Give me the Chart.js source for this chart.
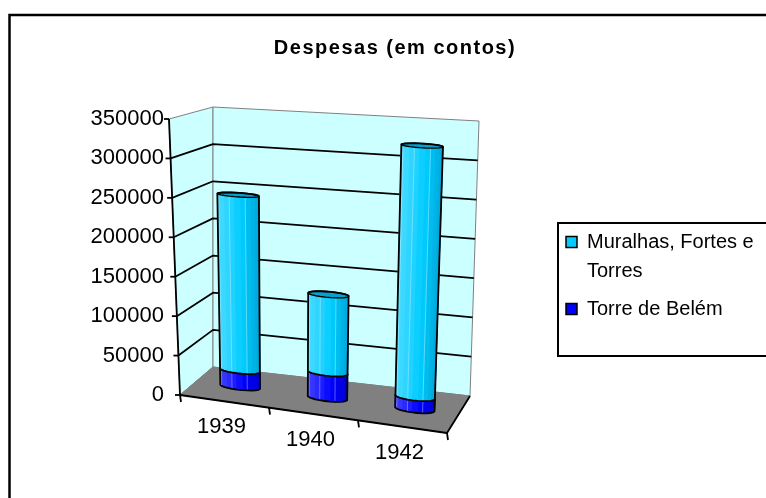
<!DOCTYPE html>
<html>
<head>
<meta charset="utf-8">
<script src="https://cdn.jsdelivr.net/npm/chart.js@4.4.0/dist/chart.umd.min.js"></script>
<style>
  html, body { margin: 0; padding: 0; background: #fff; }
</style>
</head>
<body>
<canvas id="despesasChart" width="766" height="498"></canvas>
<script>
// data (contos)
const years = ["1939", "1940", "1942"];
const muralhas = [227000, 99000, 313000];
const torreBelem = [21000, 32000, 15000];
const yTicks = [0, 50000, 100000, 150000, 200000, 250000, 300000, 350000];

const CYAN = { light: [90, 222, 255], mid: [0, 204, 255], dark: [0, 160, 210], cap: "#0AA0CC" };
const BLUE = { light: [80, 80, 255], mid: [0, 0, 255], dark: [0, 0, 200], cap: "#0000C8" };

const lerp = (a, b, t) => ({ x: a.x + (b.x - a.x) * t, y: a.y + (b.y - a.y) * t });
const mix = (a, b, t) => "rgb(" + a.map((v, i) => Math.round(v + (b[i] - v) * t)).join(",") + ")";

// the 3d box (walls + floor) hangs off the chart area
function makeBox(area) {
  const off = (p, dx, dy) => ({ x: p.x + dx, y: p.y + dy });
  const flt = { x: area.left, y: area.top };
  const flb = { x: area.left + 11, y: area.bottom };
  return {
    flt, flb,
    blt: off(flt, 44, -12), blb: off(flb, 33, -28),
    brt: off(flt, 310, 2), brb: off(flb, 290, 1),
    frt: off(flt, 290, 22), frb: off(flb, 267, 38)
  };
}

// u = across, d = depth (0 front), h = height (0..1)
function project(box, u, d, h) {
  const front = lerp(lerp(box.flb, box.frb, u), lerp(box.flt, box.frt, u), h);
  const back = lerp(lerp(box.blb, box.brb, u), lerp(box.blt, box.brt, u), h);
  return lerp(front, back, d);
}

function poly(ctx, pts, fill, stroke, lw) {
  ctx.beginPath();
  pts.forEach((p, i) => (i ? ctx.lineTo(p.x, p.y) : ctx.moveTo(p.x, p.y)));
  ctx.closePath();
  if (fill) { ctx.fillStyle = fill; ctx.fill(); }
  if (stroke) { ctx.strokeStyle = stroke; ctx.lineWidth = lw; ctx.stroke(); }
}

function line(ctx, pts, color, lw) {
  ctx.beginPath();
  pts.forEach((p, i) => (i ? ctx.lineTo(p.x, p.y) : ctx.moveTo(p.x, p.y)));
  ctx.strokeStyle = color;
  ctx.lineWidth = lw;
  ctx.stroke();
}

function hull(points) {
  const p = points.slice().sort((a, b) => a.x - b.x || a.y - b.y);
  const cross = (o, a, b) => (a.x - o.x) * (b.y - o.y) - (a.y - o.y) * (b.x - o.x);
  const lower = [], upper = [];
  for (const q of p) {
    while (lower.length >= 2 && cross(lower[lower.length - 2], lower[lower.length - 1], q) <= 0) lower.pop();
    lower.push(q);
  }
  for (const q of p.reverse()) {
    while (upper.length >= 2 && cross(upper[upper.length - 2], upper[upper.length - 1], q) <= 0) upper.pop();
    upper.push(q);
  }
  upper.pop();
  lower.pop();
  return lower.concat(upper);
}

function drawCylinder(ctx, box, uc, ru, h0, h1, pal) {
  const N = 24, dc = 0.5, rd = 0.1;
  const bot = [], top = [];
  for (let k = 0; k < N; k++) {
    const a = (Math.PI * 2 * k) / N;
    const u = uc + ru * Math.cos(a), d = dc + rd * Math.sin(a);
    bot.push(project(box, u, d, h0));
    top.push(project(box, u, d, h1));
  }
  const faces = [];
  for (let k = 0; k < N; k++) {
    const a = (Math.PI * 2 * (k + 0.5)) / N;
    faces.push({ k, nx: Math.cos(a), nd: Math.sin(a) });
  }
  faces.sort((p, q) => q.nd - p.nd); // back first
  faces.forEach(f => {
    const k2 = (f.k + 1) % N;
    const i = f.nx * -0.95 + f.nd * -0.31;
    const col = i >= 0 ? mix(pal.mid, pal.light, i * 0.8) : mix(pal.mid, pal.dark, -i);
    poly(ctx, [bot[f.k], bot[k2], top[k2], top[f.k]], col, col, 0.8);
  });
  // faint facet lines like excel
  ctx.globalAlpha = 0.35;
  [14, 17, 20].forEach(k => line(ctx, [bot[k], top[k]], "#fff", 1));
  ctx.globalAlpha = 1;
  poly(ctx, top, pal.cap, null);
  poly(ctx, hull(bot.concat(top)), null, "#000", 1.8);
  poly(ctx, top, null, "#000", 1.4);
}

const scene3d = {
  id: "scene3d",
  beforeDraw(chart) {
    const { ctx, width, height } = chart;
    ctx.save();
    ctx.fillStyle = "#fff";
    ctx.fillRect(0, 0, width, height);
    ctx.strokeStyle = "#000";
    ctx.lineWidth = 2.5;
    ctx.strokeRect(9.5, 15, width + 50, height + 50);
    ctx.restore();
    // excel title is letter-spaced
    const t = chart.titleBlock;
    if (t && !t._spaced) {
      const orig = t.draw;
      t.draw = function () {
        this.ctx.letterSpacing = "1.5px";
        orig.call(this);
        this.ctx.letterSpacing = "0px";
      };
      t._spaced = true;
    }
  },
  afterLayout(chart) {
    // legend box sits level with the middle of the plot, running off the right edge
    const lg = chart.legend;
    lg.top += 223;
    lg.bottom += 223;
    lg.left = chart.width - 209;
    lg.right = chart.width;
  },
  beforeDatasetsDraw(chart) {
    const { ctx, chartArea: ca, scales: { x, y } } = chart;
    const box = makeBox(ca);
    const hOf = v => (ca.bottom - y.getPixelForValue(v)) / ca.height;
    ctx.save();
    ctx.lineJoin = "round";

    // walls
    poly(ctx, [box.flb, box.flt, box.blt, box.blb], "#CCFFFF", "#808080", 1);
    poly(ctx, [box.blb, box.blt, box.brt, box.brb], "#CCFFFF", "#808080", 1);
    y.ticks.forEach(t => {
      if (t.value <= 0 || t.value >= y.max) return;
      const h = hOf(t.value);
      line(ctx, [project(box, 0, 0, h), project(box, 0, 1, h), project(box, 1, 1, h)], "#000", 1.8);
    });

    // floor
    poly(ctx, [box.flb, box.frb, box.brb, box.blb], "#808080", "#808080", 1);
    line(ctx, [box.flb, box.frb, box.brb], "#000", 1.8);

    // value axis and its ticks
    line(ctx, [box.flt, box.flb], "#000", 1.8);
    y.ticks.forEach(t => {
      const p = project(box, 0, 0, hOf(t.value));
      line(ctx, [{ x: p.x - 5, y: p.y }, p], "#000", 1.8);
    });

    // category ticks and labels
    const n = chart.data.labels.length;
    for (let k = 0; k <= n; k++) {
      const p = project(box, k / n, 0, 0);
      line(ctx, [p, { x: p.x + 1, y: p.y + 7 }], "#000", 1.8);
    }
    ctx.font = '22px "Liberation Sans", Arial, sans-serif';
    ctx.fillStyle = "#000";
    ctx.textAlign = "center";
    ctx.textBaseline = "middle";
    const meta = chart.getDatasetMeta(0);
    chart.data.labels.forEach((lab, i) => {
      const uc = (x.getPixelForValue(i) - ca.left) / ca.width;
      const p = project(box, uc, 0, 0);
      ctx.fillText(lab, p.x - 3, p.y + 26);
    });

    // stacked cylinders: Torre de Belém at the bottom
    chart.data.labels.forEach((lab, i) => {
      const el = meta.data[i];
      const uc = (el.x - ca.left) / ca.width;
      const ru = el.width / 2 / ca.width;
      const low = chart.data.datasets[1].data[i];
      const total = low + chart.data.datasets[0].data[i];
      drawCylinder(ctx, box, uc, ru, 0, hOf(low), BLUE);
      drawCylinder(ctx, box, uc, ru, hOf(low), hOf(total), CYAN);
    });
    ctx.restore();
  },
  beforeDatasetDraw() {
    return false; // bars are drawn as cylinders above
  },
  afterDraw(chart) {
    const { ctx, legend } = chart;
    ctx.save();
    ctx.strokeStyle = "#000";
    ctx.lineWidth = 2;
    ctx.strokeRect(legend.left + 1, legend.top, 400, 133);
    ctx.restore();
  }
};

Chart.defaults.font.family = '"Liberation Sans", Arial, sans-serif';
Chart.defaults.color = "#000";

new Chart(document.getElementById("despesasChart"), {
  type: "bar",
  data: {
    labels: years,
    datasets: [
      { label: ["Muralhas, Fortes e", "Torres"], data: muralhas, backgroundColor: "#00CCFF", borderColor: "#000", borderWidth: 1.5 },
      { label: "Torre de Belém", data: torreBelem, backgroundColor: "#0000FF", borderColor: "#000", borderWidth: 1.5 }
    ]
  },
  options: {
    responsive: false,
    animation: false,
    events: [],
    categoryPercentage: 0.9,
    barPercentage: 0.5,
    layout: { padding: { left: 24, top: 0, right: 0, bottom: 103 } },
    scales: {
      x: { display: false, stacked: true },
      y: {
        min: yTicks[0],
        max: yTicks[yTicks.length - 1],
        grid: { display: false, drawTicks: false },
        border: { display: false },
        ticks: {
          stepSize: yTicks[1] - yTicks[0],
          padding: 5,
          font: { size: 22 },
          callback: v => String(v)
        },
        afterFit: s => { s.width = 145; }
      }
    },
    plugins: {
      title: {
        display: true,
        text: "Despesas (em contos)",
        font: { size: 20, weight: "bold" },
        padding: { top: 36, bottom: 59 }
      },
      legend: {
        position: "right",
        align: "start",
        maxWidth: 209,
        labels: { boxWidth: 11, boxHeight: 11, padding: 9, font: { size: 20, lineHeight: 1.45 } }
      },
      tooltip: { enabled: false }
    }
  },
  plugins: [scene3d]
});
</script>
</body>
</html>
